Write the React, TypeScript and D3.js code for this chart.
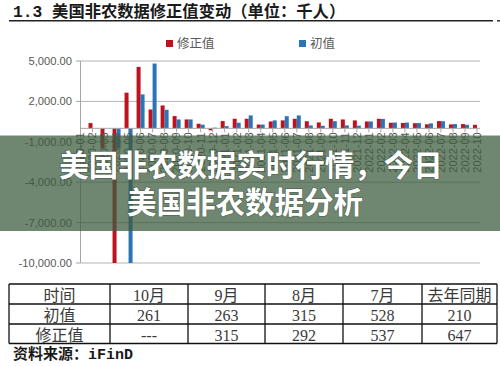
import React from "react";
import * as d3 from "d3";

const months = [
  "2020-01","2020-02","2020-03","2020-04","2020-05","2020-06","2020-07","2020-08","2020-09","2020-10","2020-11","2020-12",
  "2021-01","2021-02","2021-03","2021-04","2021-05","2021-06","2021-07","2021-08","2021-09","2021-10","2021-11","2021-12",
  "2022-01","2022-02","2022-03","2022-04","2022-05","2022-06","2022-07","2022-08","2022-09","2022-10",
];

// 修正值 (red)
const revisedValues: (number | null)[] = [
  null, 390, -1500, -20500, 2650, 4560, 1400, 1700, 910, 660, 340, -150,
  540, 710, 710, 280, 510, 590, 710, 530, 440, 710, 660, 590,
  510, 710, 415, 400, 380, 300, 537, 292, 315, 261,
];

// 初值 (blue)
const initialValues: (number | null)[] = [
  null, null, null, -1500, -20500, 2520, 4810, 1380, 660, 660, 270, 50,
  165, 415, 960, 280, 590, 900, 960, 215, 190, 530, 215, 200,
  510, 700, 430, 430, 390, 370, 528, 315, 263, null,
];

const yTicks = [5000, 2000, -1000, -4000, -7000, -10000];

const legendLabels = ["修正值", "初值"];

const tableHeader = ["时间", "10月", "9月", "8月", "7月", "去年同期"];
const tableInitial = ["初值", "261", "263", "315", "528", "210"];
const tableRevised = ["修正值", "---", "315", "292", "537", "647"];

const titleText = "美国非农数据修正值变动（单位：千人）";
const overlayLine1 = "美国非农数据实时行情，今日";
const overlayLine2 = "美国非农数据分析";

const RED = "#c0121e";
const BLUE = "#2a74b8";

export default function App() {
  const W = 500, H = 366;
  const plotLeft = 80.5, plotRight = 480;
  const x = d3.scalePoint<string>().domain(months).range([80.5, 477]);
  const y = d3.scaleLinear().domain([-10000, 5000]).range([263, 61]).clamp(true);
  const fmtLocale = d3.formatLocale({ decimal: ".", thousands: ",", grouping: [3], currency: ["", ""], minus: "-" });
  const fmt = fmtLocale.format(",.2f");
  const bw = 4;

  const colEdges = [9, 110, 188, 265, 343, 422, 497];
  const rowEdges = [284, 304, 324, 343.5];
  const rows = [tableHeader, tableInitial, tableRevised];
  const rowBaselines = [300.5, 320.5, 340.5];

  const cjkSans = "'Noto Sans CJK SC', 'Noto Sans', sans-serif";
  const serifMix = "'Liberation Serif', 'Noto Sans CJK SC', serif";

  return (
    <svg width={W} height={H} style={{ position: "absolute", left: 0, top: 0, background: "#fff" }}
      xmlns="http://www.w3.org/2000/svg">
      <rect x={0} y={0} width={W} height={H} fill="#fff" />
      {/* Title */}
      <text x={13} y={17} fontSize={16.3} fontWeight="bold" fill="#1a1a1a" fontFamily={cjkSans}>
        <tspan fontFamily="'Liberation Mono', 'DejaVu Sans Mono', monospace">1.3 </tspan>
        <tspan>{titleText}</tspan>
      </text>
      <line x1={9} x2={493} y1={20.8} y2={20.8} stroke="#222" strokeWidth={1.4} />
      <line x1={497} x2={500} y1={20.8} y2={20.8} stroke="#222" strokeWidth={1.4} />

      {/* Legend */}
      <rect x={166} y={40} width={7} height={7} fill={RED} />
      <text x={177} y={47.5} fontSize={12.5} fill="#595959" fontFamily={cjkSans}>{legendLabels[0]}</text>
      <rect x={299} y={40} width={7} height={7} fill={BLUE} />
      <text x={310} y={47.5} fontSize={12.5} fill="#595959" fontFamily={cjkSans}>{legendLabels[1]}</text>

      {/* Gridlines and y labels */}
      {yTicks.map((t) => (
        <g key={t}>
          <line x1={plotLeft} x2={plotRight} y1={y(t)} y2={y(t)} stroke="#b3b3b3" strokeWidth={1} />
          <line x1={76} x2={plotLeft} y1={y(t)} y2={y(t)} stroke="#a6a6a6" strokeWidth={1} />
          <text x={72} y={y(t)} dy="0.35em" textAnchor="end" fontSize={11.2} fill="#595959"
            fontFamily="'Liberation Sans', Arial, sans-serif">{fmt(t)}</text>
        </g>
      ))}
      <line x1={plotLeft} x2={plotLeft} y1={y(5000)} y2={y(-10000)} stroke="#a6a6a6" strokeWidth={1} />

      {/* Bars */}
      {months.map((m, i) => {
        const r = revisedValues[i];
        const b = initialValues[i];
        const cx = x(m)!;
        return (
          <g key={m}>
            {r !== null && (
              <rect x={cx - bw} width={bw} y={Math.min(y(r), y(0))} height={Math.abs(y(r) - y(0))} fill={RED} />
            )}
            {b !== null && (
              <rect x={cx} width={bw} y={Math.min(y(b), y(0))} height={Math.abs(y(b) - y(0))} fill={BLUE} />
            )}
          </g>
        );
      })}

      {/* Zero axis with ticks and labels */}
      <line x1={plotLeft} x2={plotRight} y1={y(0)} y2={y(0)} stroke="#a6a6a6" strokeWidth={1} />
      {months.map((m) => (
        <g key={"t" + m}>
          <line x1={x(m)!} x2={x(m)!} y1={y(0)} y2={y(0) + 4} stroke="#a6a6a6" strokeWidth={1} />
          <text transform={`translate(${x(m)},${y(0) + 4}) rotate(-90)`} dy="0.35em" textAnchor="end"
            fontSize={11} fill="#595959" fontFamily="'Liberation Sans', Arial, sans-serif">{m}</text>
        </g>
      ))}

      {/* Overlay band */}
      <rect x={0} y={135.5} width={W} height={95.5} fill="#3d5c3e" opacity={0.74} />
      <text x={251} y={175.5} textAnchor="middle" fontSize={29.5} fontWeight="bold" fill="#fff"
        fontFamily={cjkSans} style={{ paintOrder: "stroke" }} stroke="rgba(40,50,40,0.35)" strokeWidth={1.5}>
        {overlayLine1}
      </text>
      <text x={245} y={212.5} textAnchor="middle" fontSize={29.5} fontWeight="bold" fill="#fff"
        fontFamily={cjkSans} style={{ paintOrder: "stroke" }} stroke="rgba(40,50,40,0.35)" strokeWidth={1.5}>
        {overlayLine2}
      </text>

      {/* Table */}
      {rows.map((row, ri) =>
        row.map((cell, ci) => (
          <text key={ri + "-" + ci} x={(colEdges[ci] + colEdges[ci + 1]) / 2} y={rowBaselines[ri]}
            textAnchor="middle" fontSize={16} fill="#3a3a3a" fontFamily={serifMix}>{cell}</text>
        ))
      )}
      {rowEdges.map((ry, i) => (
        <line key={"r" + i} x1={colEdges[0]} x2={colEdges[colEdges.length - 1]} y1={ry} y2={ry}
          stroke="#111" strokeWidth={1.3} />
      ))}
      {colEdges.map((cx, i) => (
        <line key={"c" + i} x1={cx} x2={cx} y1={rowEdges[0]} y2={rowEdges[rowEdges.length - 1]}
          stroke="#111" strokeWidth={1.3} />
      ))}

      {/* Source */}
      <text x={13} y={359} fontSize={15} fontWeight="bold" fill="#1a1a1a" fontFamily={cjkSans}>
        <tspan>资料来源：</tspan>
        <tspan fontFamily="'Liberation Mono', 'DejaVu Sans Mono', monospace">iFinD</tspan>
      </text>
    </svg>
  );
}
